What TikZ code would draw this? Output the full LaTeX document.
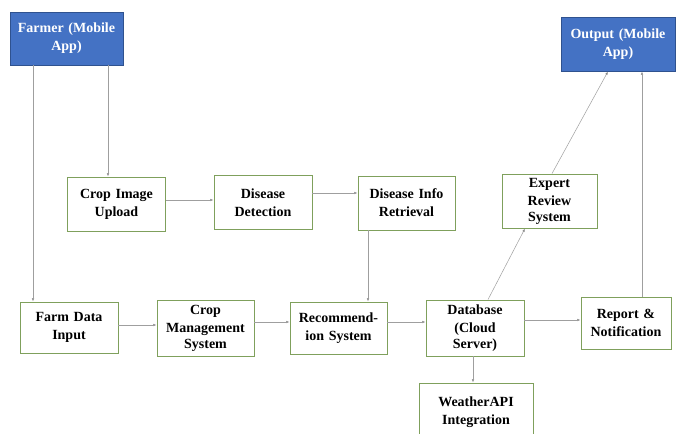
\documentclass[tikz,border=0pt]{standalone}
\usepackage{fontspec}
\setmainfont{Liberation Serif}
\usetikzlibrary{arrows.meta}
\definecolor{appblue}{HTML}{4472C4}
\definecolor{appedge}{HTML}{2F528F}
\definecolor{boxgreen}{HTML}{7FA05C}
\newcommand*{\bwd}{98pt}
\newcommand*{\bht}{54pt}

\begin{document}
\begin{tikzpicture}[x=1pt, y=-1pt, font=\bfseries\fontsize{14}{18}\selectfont,
    box/.style={draw=boxgreen, line width=0.9pt, fill=white, align=center, inner sep=1pt,
                minimum width=\bwd, minimum height=\bht, text width=\bwd-6pt},
    appbox/.style={box, draw=appedge, fill=appblue, text=white},
    arr/.style={draw=gray!75, line width=0.5pt, -{Latex[length=3.5pt,width=2.5pt,fill=black!80]}}]
    \useasboundingbox (0,0) rectangle (678,434);
    \fill[white] (0,0) rectangle (678,434);
        \node [appbox, minimum width=113pt, minimum height=53pt, text width=109pt] (farmer) at (66.5,38.5) {Farmer (Mobile\\App)};
        \node [appbox, minimum width=114pt, text width=110pt] (output) at (618,44) {Output (Mobile\\App)};
        \node [box] (upload)   at (116.5,204)   {Crop Image\\Upload};
        \node [box] (detect)   at (263,202.5)   {Disease\\Detection};
        \node [box, minimum width=97pt] (info) at (406.5,203) {Disease Info\\Retrieval};
        \node [box, minimum height=51pt] (farmdata) at (69,327.5) {Farm Data\\Input};
        \node [box, minimum width=97pt, minimum height=56pt] (cropmgmt) at (205.5,328) {Crop\\Management\\[-2pt]System};
        \node [box, minimum width=97pt, minimum height=52pt] (recomm) at (338.5,328) {Recommend-\\ion System};
        \node [box, minimum height=56pt] (database) at (475,328) {Database\\(Cloud\\[-2pt]Server)};
        \node [box, minimum width=90pt, minimum height=52pt, text width=86pt] (report) at (626,323) {Report \&\\Notification};
        \node [box, minimum width=95pt] (expert) at (549.5,201) {Expert\\Review\\[-2pt]System};
        \node [box, minimum width=114pt, minimum height=58pt, text width=108pt] (weather) at (476,412) {WeatherAPI\\Integration};
        % connectors
        \draw [arr] ([xshift=41.5pt]farmer.south) -- ([xshift=-8.5pt]upload.north);
        \draw [arr] ([xshift=-33.5pt]farmer.south) -- ([xshift=-36pt]farmdata.north);
        \draw [arr] ([yshift=4pt]upload.east) -- ([yshift=2.5pt]detect.west);
        \draw [arr] ([yshift=9.5pt]detect.east) -- ([yshift=10pt]info.west);
        \draw [arr] ([xshift=-38.5pt]info.south) -- ([xshift=29.5pt]recomm.north);
        \draw [arr] ([yshift=2.5pt]farmdata.east) -- ([yshift=3pt]cropmgmt.west);
        \draw [arr] ([yshift=6pt]cropmgmt.east) -- ([yshift=6pt]recomm.west);
        \draw [arr] ([yshift=6pt]recomm.east) -- ([yshift=6pt]database.west);
        \draw [arr] ([yshift=8pt]database.east) -- ([yshift=3pt]report.west);
        \draw [arr] ([xshift=13pt]database.north) -- ([xshift=-24.5pt]expert.south);
        \draw [arr] ([xshift=2.5pt]expert.north) -- ([xshift=-10pt]output.south);
        \draw [arr] ([xshift=16pt]report.north) -- ([xshift=24pt]output.south);
        \draw [arr] ([xshift=-2pt]database.south) -- ([xshift=-3pt]weather.north);
    \end{tikzpicture}
\end{document}
